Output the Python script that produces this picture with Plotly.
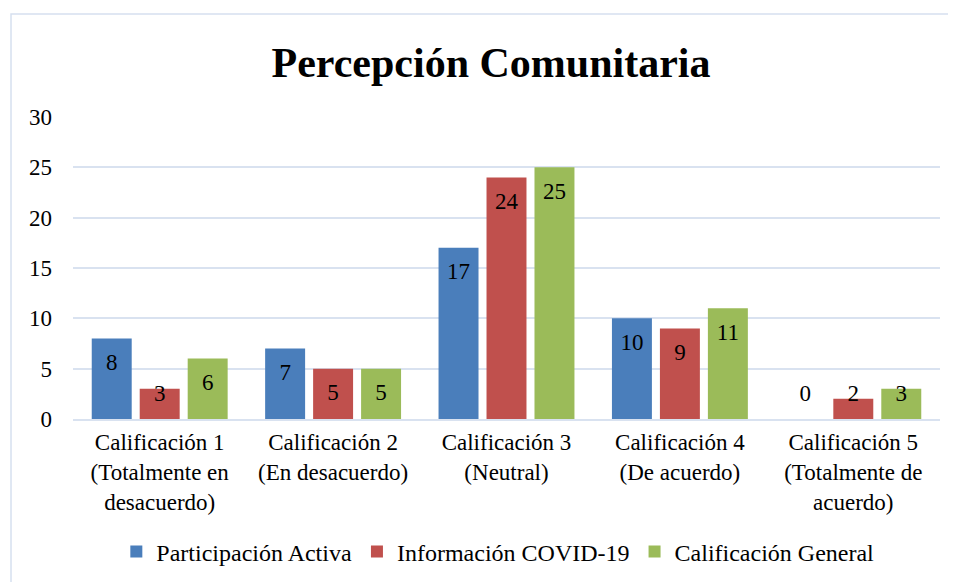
import plotly.graph_objects as go

categories = [
    "Calificación 1<br>(Totalmente en<br>desacuerdo)",
    "Calificación 2<br>(En desacuerdo)",
    "Calificación 3<br>(Neutral)",
    "Calificación 4<br>(De acuerdo)",
    "Calificación 5<br>(Totalmente de<br>acuerdo)",
]
participacion = [8, 7, 17, 10, 0]
informacion = [3, 5, 24, 9, 2]
general = [6, 5, 25, 11, 3]

series_names = ["Participación Activa", "Información COVID-19", "Calificación General"]
colors = ["#4a7ebb", "#c0504d", "#9bbb59"]

FONT = "Liberation Serif"
BARGAP = 0.17
GROUPGAP = 0.167
LABEL_MIN = 4.9  # labels of short bars are kept above the axis (Excel style)

xpos = list(range(len(categories)))
all_series = [participacion, informacion, general]
n = len(all_series)
slot = (1 - BARGAP) / n

fig = go.Figure()
for i, (name, vals, col) in enumerate(zip(series_names, all_series, colors)):
    fig.add_trace(go.Bar(
        x=xpos, y=vals, name=name,
        marker=dict(color=col, line=dict(width=0)),
        showlegend=True,
    ))
for i, vals in enumerate(all_series):
    off = (i - (n - 1) / 2) * slot
    fig.add_trace(go.Scatter(
        x=[p + off for p in xpos], y=[max(v, LABEL_MIN) for v in vals],
        mode="markers+text", text=[str(v) for v in vals],
        textposition="bottom center",
        marker=dict(size=21, opacity=0),
        textfont=dict(family=FONT, size=23, color="black"),
        showlegend=False, hoverinfo="skip", cliponaxis=False,
    ))

fig.update_layout(
    width=948, height=574,
    margin=dict(l=65, r=16, t=109, b=163, autoexpand=False),
    paper_bgcolor="white", plot_bgcolor="white",
    barmode="group", bargap=BARGAP, bargroupgap=GROUPGAP,
    title=dict(text="<b>Percepción Comunitaria</b>", x=0.5095, xanchor="center",
               y=1 - 54 / 574, yanchor="middle",
               font=dict(family=FONT, size=42, color="black")),
    font=dict(family=FONT, size=23, color="black"),
    yaxis=dict(range=[0, 30], dtick=5, gridcolor="#d9e2f0", gridwidth=1.5,
               zeroline=False, showline=False, ticks="", ticklabelstandoff=20,
               tickfont=dict(family=FONT, size=23, color="black")),
    xaxis=dict(range=[-0.5, len(categories) - 0.5], tickvals=xpos, ticktext=categories,
               showline=True, linecolor="#d9e2f0", linewidth=1.5, ticks="",
               showgrid=False, zeroline=False, ticklabelstandoff=2,
               tickfont=dict(family=FONT, size=23, color="black")),
    legend=dict(orientation="h", x=0.49, xanchor="center", y=-0.44, yanchor="middle",
                font=dict(family=FONT, size=24, color="black"),
                itemwidth=30, traceorder="normal"),
    shapes=[dict(type="rect", xref="paper", yref="paper",
                 x0=-0.0715, x1=1.03, y0=-0.6, y1=1.341,
                 line=dict(color="#d6e0ef", width=1.5), fillcolor="rgba(0,0,0,0)")],
)

fig.write_html("out.html")
